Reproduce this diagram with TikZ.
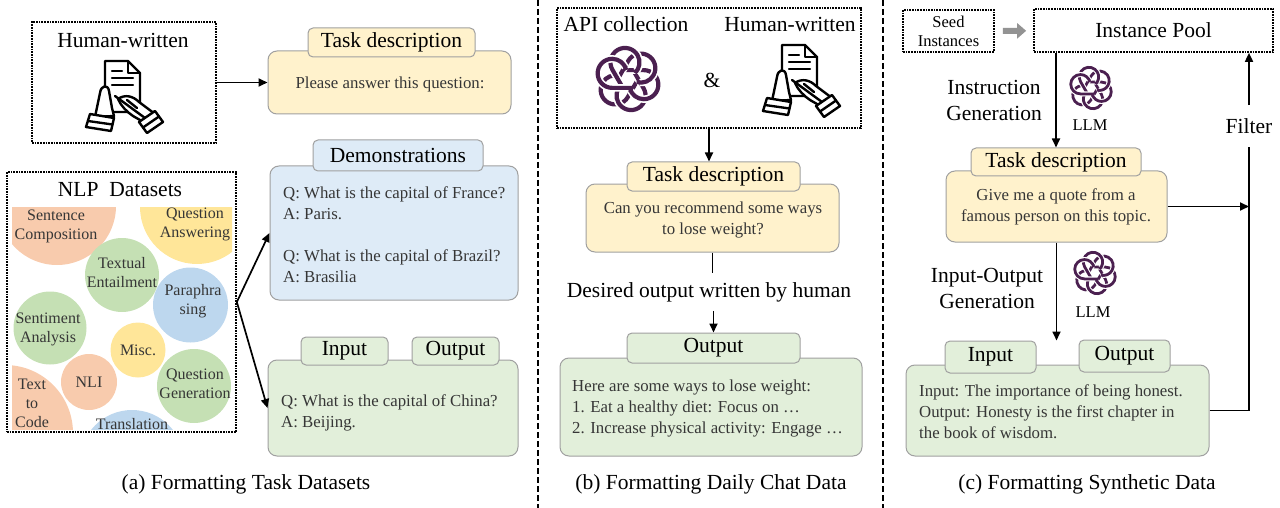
\documentclass[tikz,border=0pt]{standalone}
\usepackage{fontspec}
\setmainfont{Liberation Serif}
\usetikzlibrary{arrows.meta}
\definecolor{boxgray}{HTML}{A0A0A0}
\definecolor{txtgray}{HTML}{363636}
\definecolor{yelfill}{HTML}{FFF2CC}
\definecolor{bluefill}{HTML}{DEEBF7}
\definecolor{greenfill}{HTML}{E2EFDA}
\definecolor{salmon}{HTML}{F8CBAD}
\definecolor{sunny}{HTML}{FFE699}
\definecolor{leaf}{HTML}{C5E0B4}
\definecolor{sky}{HTML}{BDD7EE}
\definecolor{gptpurple}{HTML}{4B2050}
\newcommand\bigtxt{\fontsize{21.5}{26}\selectfont}
\newcommand\smalltxt{\fontsize{16.8}{21}\selectfont}
\newcommand\seedtxt{\fontsize{16.5}{19}\selectfont}
\newcommand\circtxt{\fontsize{16}{19}\selectfont}
\tikzset{
  mainbox/.style={draw=boxgray, line width=1pt, rounded corners=9pt, inner sep=0pt},
  tabbox/.style={draw=boxgray, line width=1pt, rounded corners=5pt, inner sep=0pt, font=\bigtxt},
  srcbox/.style={draw, densely dotted, line width=1.7pt, inner sep=0pt},
  bodytext/.style={font=\smalltxt, text=txtgray, inner sep=0pt},
  bigtext/.style={font=\bigtxt, inner sep=0pt},
  smalltext/.style={font=\seedtxt, inner sep=0pt},
  circtext/.style={font=\circtxt, text=txtgray, align=center, inner sep=0pt},
  arr/.style={-{Triangle[length=9pt,width=8pt]}, line width=1.7pt},
  fatarrow/.style={-{Triangle[length=9pt,width=15pt]}, line width=6pt, draw=gray!85, shorten <=8pt, shorten >=7pt},
  sepline/.style={dash pattern=on 6pt off 3pt, line width=1.5pt},
  logoline/.style={line width=4pt},
  logohalo/.style={line width=7pt},
  gptlogo/.pic={
    \foreach \k in {0,...,5} {
      \draw[rotate=60*\k, white, logohalo] (0.21,0.173) -- (-0.0075,0.55) arc[start angle=30, end angle=275, radius=0.44];
      \draw[rotate=60*\k, gptpurple, logoline, line join=round] (0.31,0) -- (-0.0075,0.55) arc[start angle=30, end angle=287, radius=0.44];
    }
  },
  handicon/.pic={
    \begin{scope}[line width=2.4pt, line join=round, line cap=round, fill=white]
      \filldraw (-20,-35) -- (3,-35) -- (15,-23) -- (15,16) -- (-20,16) -- cycle;
      \draw (3,-35) -- (3,-23) -- (15,-23);
      \draw (-13,-25) -- (-3,-25) (-13,-18) -- (8,-18) (-13,-11) -- (8,-11);
      \filldraw (-30,21) -- (-25,-3) .. controls (-24,-11) and (-17,-12) .. (-16,-5) -- (-13,12) -- (-11,20) -- cycle;
      \filldraw (-35,18) -- (-11,22) -- (-14,35) -- (-39,31) -- cycle;
      \draw (-37,25) -- (-12.5,28.5);
      \filldraw (-7,3) .. controls (0,-2) and (8,0) .. (14,6) -- (30,18) -- (22,28) -- (8,20) .. controls (2,16) and (-4,10) .. cycle;
      \draw (-10,0) -- (20,22);
      \draw (2,4) -- (12,12);
      \filldraw (14,26) -- (30,15) -- (38,26) -- (22,37) -- cycle;
      \draw (18,31.5) -- (34,20.5);
    \end{scope}
  }
}
\begin{document}
\begin{tikzpicture}[x=1pt, y=-1pt]
\useasboundingbox (0,0) rectangle (1280,508);
\draw[sepline] (538,0) -- (538,508);
\draw[sepline] (883,0) -- (883,508);

\node[srcbox, minimum width=184pt, minimum height=121pt] (humanA) at (124,82.5) {};
\node[bigtext] (humanAtxt) at (123,40) {Human-written};
\pic (handA) at (125,96) {handicon};
\node[mainbox, fill=yelfill, minimum width=243pt, minimum height=63pt] (taskA) at (389.5,82.5) {};
\node[tabbox, fill=yelfill, minimum width=167pt, minimum height=29pt] (taskAtab) at (391.5,42.5) {Task description};
\node[bodytext] (taskAtxt) at (390,84) {Please answer this question:};
\draw[arr] (humanA) -- (taskA);

\node[srcbox, minimum width=229pt, minimum height=260pt] (nlp) at (121.5,302) {};
\node[bigtext] (nlptxt) at (120,190) {NLP\ \ Datasets};
\begin{scope}
\clip (12,207) rectangle (232,429);
\foreach \cx/\cy/\r/\col in {57/206/59pt/salmon, 197/207/57pt/sunny, 122/275/37pt/leaf, 190.5/305/37.5pt/sky, 50/328/36.5pt/leaf, 138/350/27.5pt/sunny, 89/382/28pt/salmon, 194/386/37pt/leaf, 5/433/68pt/salmon, 132/462/52pt/sky}
  \fill[\col] (\cx,\cy) circle[radius=\r];
\foreach \i/\cx/\cy/\txt in {1/56/226/{Sentence\\Composition}, 2/195/224/{Question\\Answering}, 3/122/273/{Textual\\Entailment}, 4/193/301/{Paraphra\\sing}, 5/48/329/{Sentiment\\Analysis}, 6/138/350/{Misc.}, 7/89/382/{NLI}, 8/195/384/{Question\\Generation}, 9/32/403/{Text\\to\\Code}, 10/132/424/{Translation}}
  \node[circtext] (topic\i) at (\cx,\cy) {\txt};
\end{scope}

\node[mainbox, fill=bluefill, minimum width=248pt, minimum height=134pt] (demo) at (394,233) {};
\node[tabbox, fill=bluefill, minimum width=170pt, minimum height=31pt] (demotab) at (398,155.5) {Demonstrations};
\node[bodytext, anchor=west, align=left] (demotxt) at (283,234.5) {Q: What is the capital of France?\\A: Paris.\\[20.5pt]Q: What is the capital of Brazil?\\A: Brasilia};
\node[mainbox, fill=greenfill, minimum width=250pt, minimum height=96pt] (ioA) at (393,408) {};
\node[tabbox, fill=greenfill, minimum width=87pt, minimum height=28pt] (inA) at (344.5,351) {Input};
\node[tabbox, fill=greenfill, minimum width=87pt, minimum height=28pt] (outA) at (455.5,351) {Output};
\node[bodytext, anchor=west, align=left] (ioAtxt) at (281,412.5) {Q: What is the capital of China?\\A: Beijing.};
\draw[arr] (nlp.east) -- (demo.west);
\draw[arr] (nlp.east) -- (ioA.west);
\node[bigtext] (capA) at (246,484) {(a) Formatting Task Datasets};

\node[srcbox, minimum width=304pt, minimum height=120pt] (chatsrc) at (709,68) {};
\node[bigtext] (apitxt) at (626,24) {API collection};
\node[bigtext] (humanBtxt) at (790,24) {Human-written};
\pic[scale=33, logoline/.style={line width=4.2pt}, logohalo/.style={line width=7.5pt}] (logoB) at (628,79) {gptlogo};
\node[bigtext] (amp) at (712,80) {\&};
\pic (handB) at (802,80) {handicon};
\node[mainbox, fill=yelfill, minimum width=253pt, minimum height=68pt] (taskB) at (712.5,218) {};
\node[tabbox, fill=yelfill, minimum width=173pt, minimum height=29pt] (taskBtab) at (713.5,176.5) {Task description};
\node[bodytext, align=center] (taskBtxt) at (713,220) {Can you recommend some ways\\to lose weight?};
\draw[arr] (chatsrc.south) -- (chatsrc.south |- taskBtab.north);
\node[bigtext, inner ysep=9pt] (desired) at (709,292) {Desired output written by human};
\draw[line width=1.7pt] (taskB.south) -- (taskB.south |- desired.north);
\node[mainbox, fill=greenfill, minimum width=302pt, minimum height=98pt] (outB) at (711,407) {};
\node[tabbox, fill=greenfill, minimum width=173pt, minimum height=30pt] (outBtab) at (713.5,348) {Output};
\draw[arr] (outBtab.north |- desired.south) -- (outBtab.north);
\node[bodytext, anchor=west, align=left] (outBtxt) at (572,408.5) {Here are some ways to lose weight:\\1. Eat a healthy diet: Focus on …\\2. Increase physical activity: Engage …};
\node[bigtext] (capB) at (711,484) {(b) Formatting Daily Chat Data};

\node[srcbox, minimum width=91pt, minimum height=42pt, font=\seedtxt, align=center] (seed) at (948.5,31) {Seed\\Instances};
\node[srcbox, minimum width=239pt, minimum height=43pt, font=\bigtxt] (pool) at (1153.5,30.5) {Instance Pool};
\draw[fatarrow] (seed) -- (pool);
\node[mainbox, fill=yelfill, minimum width=221pt, minimum height=71pt] (taskC) at (1056.5,206.5) {};
\node[tabbox, fill=yelfill, minimum width=170pt, minimum height=28pt] (taskCtab) at (1056,162) {Task description};
\node[bodytext, align=center] (taskCtxt) at (1056,207) {Give me a quote from a\\famous person on this topic.};
\draw[arr] (taskCtab.north |- pool.south) -- (taskCtab.north);
\node[bigtext, align=center] (instgen) at (994,100) {Instruction\\Generation};
\pic[scale=22, logoline/.style={line width=2.8pt}, logohalo/.style={line width=5pt}] (logoC1) at (1091,88) {gptlogo};
\node[smalltext] (llm1) at (1090,125) {LLM};
\node[mainbox, fill=greenfill, minimum width=303pt, minimum height=91pt] (ioC) at (1057.5,410.5) {};
\node[tabbox, fill=greenfill, minimum width=91pt, minimum height=32pt] (inC) at (990.5,357) {Input};
\node[tabbox, fill=greenfill, minimum width=91pt, minimum height=32pt] (outC) at (1124.5,356) {Output};
\draw[arr] (taskC.south) -- (taskC.south |- inC.north);
\node[bigtext, align=center] (iogen) at (987,288) {Input-Output\\Generation};
\pic[scale=22, logoline/.style={line width=2.8pt}, logohalo/.style={line width=5pt}] (logoC2) at (1095,273) {gptlogo};
\node[smalltext] (llm2) at (1093,312) {LLM};
\node[bodytext, anchor=west, align=left] (ioCtxt) at (919,412) {Input: The importance of being honest.\\Output: Honesty is the first chapter in\\the book of wisdom.};
\node[bigtext, inner ysep=13pt] (filter) at (1249,126) {Filter};
\draw[line width=1.7pt] (ioC.east) -| (filter.south);
\draw[arr] (filter.north) -- (filter.north |- pool.south);
\coordinate (fjoin) at (filter.south |- taskC.east);
\draw[arr] (taskC.east) -- (fjoin);
\node[bigtext] (capC) at (1087,484) {(c) Formatting Synthetic Data};
\end{tikzpicture}
\end{document}
